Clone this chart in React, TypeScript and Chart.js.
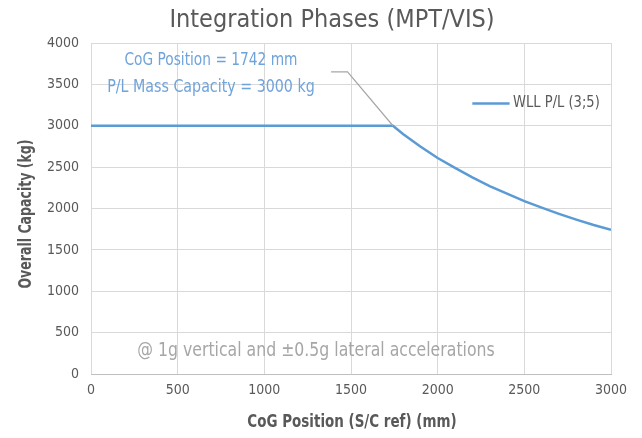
import React, { useEffect, useRef } from "react";
import { Chart, registerables } from "chart.js";

Chart.register(...registerables);

const TITLE = "Integration Phases (MPT/VIS)";
const SERIES_LABEL = "WLL P/L (3;5)";
const X_VALUES = [0, 1742, 1800, 1900, 2000, 2100, 2200, 2300, 2400, 2500, 2600, 2700, 2800, 2900, 3000];
const Y_VALUES = [3000, 3000, 2900, 2750, 2610, 2490, 2375, 2270, 2180, 2090, 2010, 1935, 1865, 1800, 1742];
const X_TITLE = "CoG Position (S/C ref) (mm)";
const Y_TITLE = "Overall Capacity (kg)";
const NOTE_LINES = ["CoG Position = 1742 mm", "P/L Mass Capacity = 3000 kg"];
const NOTE_FOOT = "@ 1g vertical and \u00b10.5g lateral accelerations";
// leader: from data point to text
const LEADER_X = [1742, 1480, 1385];
const LEADER_Y = [3000, 3650, 3650];

const FONT = "'Liberation Sans Narrow', 'DejaVu Sans Condensed', 'Roboto Condensed', 'Roboto', sans-serif";
const LINE_COLOR = "#5b9bd5";
const TEXT_GRAY = "#595959";

function condensedText(ctx: CanvasRenderingContext2D, text: string, x: number, y: number, sx: number, rot = 0) {
  ctx.save();
  ctx.translate(x, y);
  if (rot) ctx.rotate(rot);
  ctx.scale(sx, 1);
  ctx.fillText(text, 0, 0);
  ctx.restore();
}

export default function App() {
  const ref = useRef<HTMLCanvasElement | null>(null);

  useEffect(() => {
    const canvas = ref.current;
    if (!canvas) return;

    const overlay = {
      id: "overlay",
      afterDatasetsDraw(chart: any) {
        const ctx = chart.ctx;
        const xs = chart.scales.x;
        const ys = chart.scales.y;
        ctx.save();
        // title
        ctx.fillStyle = TEXT_GRAY;
        ctx.font = `25px ${FONT}`;
        ctx.textAlign = "center";
        ctx.textBaseline = "middle";
        ctx.fillText(TITLE, 332, 20);
        // axis titles
        ctx.font = `bold 17px ${FONT}`;
        condensedText(ctx, X_TITLE, 352, 423, 0.88);
        condensedText(ctx, Y_TITLE, 27, 214, 0.82, -Math.PI / 2);
        // leader line
        ctx.strokeStyle = "#a6a6a6";
        ctx.lineWidth = 1.2;
        ctx.beginPath();
        LEADER_X.forEach((v, i) => {
          const px = xs.getPixelForValue(v);
          const py = ys.getPixelForValue(LEADER_Y[i]);
          if (i === 0) ctx.moveTo(px, py);
          else ctx.lineTo(px, py);
        });
        ctx.stroke();
        // notes
        ctx.fillStyle = "#6fa3dc";
        ctx.font = `18px ${FONT}`;
        condensedText(ctx, NOTE_LINES[0], xs.getPixelForValue(692), ys.getPixelForValue(3795), 0.85);
        condensedText(ctx, NOTE_LINES[1], xs.getPixelForValue(692), ys.getPixelForValue(3470), 0.88);
        ctx.fillStyle = "#a6a6a6";
        ctx.font = `19px ${FONT}`;
        condensedText(ctx, NOTE_FOOT, xs.getPixelForValue(1298), ys.getPixelForValue(280), 0.92);
        // legend
        const ly = ys.getPixelForValue(3270);
        ctx.strokeStyle = LINE_COLOR;
        ctx.lineWidth = 2.5;
        ctx.beginPath();
        ctx.moveTo(xs.getPixelForValue(2200), ly);
        ctx.lineTo(xs.getPixelForValue(2415), ly);
        ctx.stroke();
        ctx.fillStyle = TEXT_GRAY;
        ctx.font = `15px ${FONT}`;
        ctx.textAlign = "left";
        condensedText(ctx, SERIES_LABEL, xs.getPixelForValue(2435), ly, 0.97);
        ctx.restore();
      },
    };

    const chart = new Chart(canvas, {
      type: "line",
      data: {
        datasets: [
          {
            label: SERIES_LABEL,
            data: X_VALUES.map((x, i) => ({ x, y: Y_VALUES[i] })),
            borderColor: LINE_COLOR,
            borderWidth: 2.5,
            pointRadius: 0,
            tension: 0,
            fill: false,
          },
        ],
      },
      options: {
        animation: false,
        responsive: false,
        maintainAspectRatio: false,
        layout: { padding: { top: 43, right: 31, bottom: 0, left: 0 } },
        plugins: {
          legend: { display: false },
          title: { display: false },
          tooltip: { enabled: false },
        },
        scales: {
          x: {
            type: "linear",
            min: 0,
            max: 3000,
            afterFit: (s: any) => {
              s.height = 64;
              s.paddingLeft = 0;
              s.paddingRight = 0;
            },
            ticks: {
              stepSize: 500,
              color: TEXT_GRAY,
              font: { family: FONT, size: 14 },
              padding: 8,
              maxRotation: 0,
              callback: (v: any) => String(v),
            },
            grid: { color: "#d9d9d9", lineWidth: 1, drawTicks: false },
            border: { color: "#bfbfbf" },
            title: { display: false, text: X_TITLE },
          },
          y: {
            min: 0,
            max: 4000,
            afterFit: (s: any) => {
              s.width = 91;
              s.paddingTop = 0;
              s.paddingBottom = 0;
            },
            ticks: {
              stepSize: 500,
              color: TEXT_GRAY,
              font: { family: FONT, size: 14 },
              padding: 12,
              callback: (v: any) => String(v),
            },
            grid: { color: "#d9d9d9", lineWidth: 1, drawTicks: false },
            border: { display: false },
            title: { display: false, text: Y_TITLE },
          },
        },
      },
      plugins: [overlay],
    });
    return () => chart.destroy();
  }, []);

  return (
    <div style={{ position: "fixed", left: 0, top: 0, width: 642, height: 438, background: "#fff" }}>
      <canvas ref={ref} width={642} height={438} style={{ width: 642, height: 438 }} />
    </div>
  );
}
